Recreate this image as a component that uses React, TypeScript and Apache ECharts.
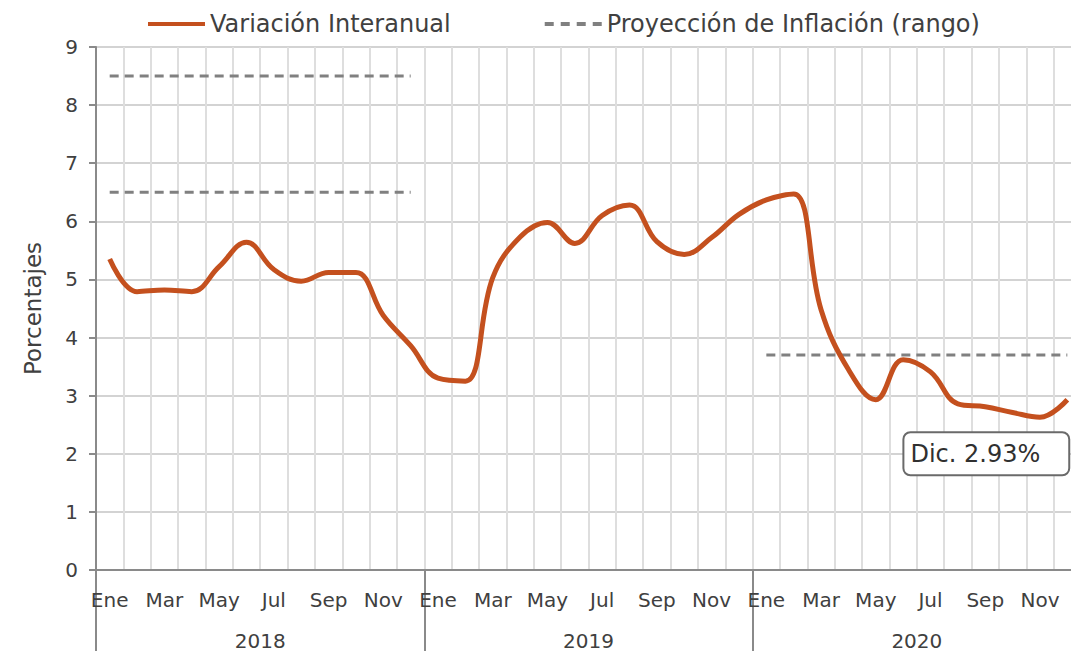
import React, { useEffect, useRef } from "react";
import * as echarts from "echarts";

const monthNames = ["Ene", "Feb", "Mar", "Abr", "May", "Jun", "Jul", "Ago", "Sep", "Oct", "Nov", "Dic"];
const years = ["2018", "2019", "2020"];
const categories = years.flatMap((y) => monthNames.map((m) => `${m} ${y}`));

const inflation2018 = [5.35, 4.79, 4.82, 4.79, 5.22, 5.64, 5.17, 4.97, 5.12, 5.12, 4.38, 3.86];
const inflation2019 = [3.3, 3.25, 5.03, 5.73, 5.98, 5.62, 6.1, 6.28, 5.65, 5.43, 5.72, 6.12];
const inflation2020 = [6.37, 6.47, 4.48, 3.45, 2.93, 3.62, 3.41, 2.86, 2.81, 2.71, 2.63, 2.93];
const inflation = [...inflation2018, ...inflation2019, ...inflation2020];

// projection range segments: first / last month index, value
const projUpper2018 = { from: 0, to: 11, value: 8.5 };
const projLower2018 = { from: 0, to: 11, value: 6.5 };
const proj2020 = { from: 24, to: 35, value: 3.7 };

const yTicks = [0, 1, 2, 3, 4, 5, 6, 7, 8, 9];
const annotationText = "Dic. 2.93%";

const SERIES_MAIN = "Variación Interanual";
const SERIES_PROJ = "Proyección de Inflación (rango)";
const FONT = "'DejaVu Sans', sans-serif";
const TEXT = "#404040";

const ICON_SOLID = "path://M0,0H57V4H0Z";
const ICON_DASHED =
  "path://M0,0H9V4H0Z M16,0H25V4H16Z M32,0H41V4H32Z M48,0H57V4H48Z";

const segment = (s: { from: number; to: number; value: number }) =>
  categories.map((_, i) => (i >= s.from && i <= s.to ? s.value : null));

const projStyle = {
  type: "line" as const,
  name: SERIES_PROJ,
  symbol: "none",
  lineStyle: { color: "#808080", width: 3, type: [9, 6] as any },
  itemStyle: { color: "#808080" },
  z: 2,
};

export default function App() {
  const ref = useRef<HTMLDivElement>(null);
  useEffect(() => {
    if (!ref.current) return;
    const chart = echarts.init(ref.current, undefined, { renderer: "svg" });
    chart.setOption({
      animation: false,
      backgroundColor: "#ffffff",
      textStyle: { fontFamily: FONT },
      legend: {
        left: 143,
        top: 7,
        itemWidth: 57,
        itemHeight: 4,
        itemGap: 94,
        textStyle: { fontSize: 24, color: TEXT, fontFamily: FONT },
        data: [
          { name: SERIES_MAIN, icon: ICON_SOLID },
          { name: SERIES_PROJ, icon: ICON_DASHED },
        ],
      },
      grid: {
        left: 96,
        width: 985,
        top: 47,
        bottom: 83,
        containLabel: false,
        outerBoundsMode: "none",
      },
      xAxis: [
        {
          type: "category",
          data: categories,
          boundaryGap: true,
          axisLine: { show: true, lineStyle: { color: "#8a8a8a", width: 2 } },
          axisTick: { show: false, interval: 0 },
          splitLine: { show: true, interval: 0, lineStyle: { color: "#dedede", width: 2 } },
          axisLabel: {
            interval: 1,
            formatter: (v: string) => v.split(" ")[0],
            fontSize: 20,
            color: TEXT,
            margin: 20,
            fontFamily: FONT,
          },
        },
        {
          type: "category",
          data: years,
          position: "bottom",
          offset: 81,
          boundaryGap: true,
          axisLine: { show: false },
          axisTick: { show: true, inside: true, length: 81, lineStyle: { color: "#8a8a8a", width: 2 } },
          axisLabel: { inside: true, margin: 0, fontSize: 20, color: TEXT, fontFamily: FONT },
          splitLine: { show: false },
        },
      ],
      yAxis: {
        type: "value",
        min: yTicks[0],
        max: yTicks[yTicks.length - 1],
        interval: 1,
        name: "Porcentajes",
        nameLocation: "middle",
        nameGap: 52,
        nameRotate: 90,
        nameTextStyle: { fontSize: 23, color: TEXT, fontFamily: FONT },
        axisLine: { show: true, lineStyle: { color: "#8a8a8a", width: 2 } },
        axisTick: { show: true, length: 7, lineStyle: { color: "#8a8a8a", width: 2 } },
        axisLabel: { fontSize: 20, color: TEXT, margin: 18, fontFamily: FONT },
        splitLine: { show: true, lineStyle: { color: "#c4c4c4", width: 1.5 } },
      },
      series: [
        {
          type: "line",
          name: SERIES_MAIN,
          data: inflation,
          smooth: 0.4,
          symbol: "none",
          lineStyle: { color: "#C4501E", width: 5 },
          itemStyle: { color: "#C4501E" },
          z: 5,
          markPoint: {
            symbol: "circle",
            symbolSize: 1,
            itemStyle: { color: "transparent" },
            data: [
              {
                coord: [categories[categories.length - 1], inflation[inflation.length - 1]],
                label: {
                  show: true,
                  formatter: annotationText,
                  position: "inside",
                  offset: [-81, 54],
                  fontSize: 24,
                  color: "#303030",
                  fontFamily: FONT,
                  backgroundColor: "#ffffff",
                  borderColor: "#6a6a6a",
                  borderWidth: 2,
                  borderRadius: 6,
                  padding: [9, 28, 8, 6],
                },
              },
            ],
          },
        },
        { ...projStyle, data: segment(projUpper2018) },
        { ...projStyle, data: segment(projLower2018) },
        { ...projStyle, data: segment(proj2020) },
      ],
    });
    return () => chart.dispose();
  }, []);
  return (
    <div
      ref={ref}
      style={{ position: "absolute", left: 0, top: 0, width: 1071, height: 653 }}
    />
  );
}
